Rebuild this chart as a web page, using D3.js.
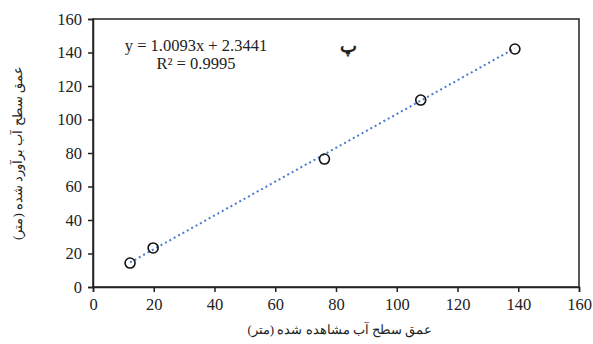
<!DOCTYPE html>
<html>
<head>
<meta charset="utf-8">
<script src="https://cdn.jsdelivr.net/npm/d3@7"></script>
<style>
  body { margin: 0; background: #fff; }
  svg text { font-family: "Liberation Serif", "Times New Roman", serif; fill: #222; }
</style>
</head>
<body>
<svg id="chart" width="593" height="344"></svg>
<script>
// observed vs estimated water table depth (m)
const observed = [12.2, 19.8, 76.2, 107.9, 138.9];
const estimated = [14.3, 23.3, 76.4, 111.6, 142.1];
const slope = 1.0093;
const intercept = 2.3441;
const xTicks = [0, 20, 40, 60, 80, 100, 120, 140, 160];
const yTicks = [0, 20, 40, 60, 80, 100, 120, 140, 160];
const eqLines = ["y = 1.0093x + 2.3441", "R² = 0.9995"];
const panelLabel = "پ";
const xTitle = "عمق سطح آب مشاهده شده (متر)";
const yTitle = "عمق سطح آب برآورد شده (متر)";

const plotL = 93, plotR = 579, plotT = 19, plotB = 287;

const svg = d3.select("#chart");

const x = d3.scaleLinear().domain([0, 160]).range([plotL, plotR]);
const y = d3.scaleLinear().domain([0, 160]).range([plotB, plotT]);

// plot frame
svg.append("rect")
    .attr("x", plotL).attr("y", plotT)
    .attr("width", plotR - plotL).attr("height", plotB - plotT)
    .attr("fill", "none").attr("stroke", "#222").attr("stroke-width", 1.5);

const xAxis = svg.append("g")
    .attr("transform", `translate(0,${plotB})`)
    .call(d3.axisBottom(x).tickValues(xTicks).tickSize(5).tickPadding(6));
const yAxis = svg.append("g")
    .attr("transform", `translate(${plotL},0)`)
    .call(d3.axisLeft(y).tickValues(yTicks).tickSize(5).tickPadding(6));

[xAxis, yAxis].forEach(g => {
    g.select(".domain").attr("stroke", "#222").attr("stroke-width", 1.5);
    g.selectAll(".tick line").attr("stroke", "#222").attr("stroke-width", 1.5);
    g.selectAll(".tick text")
        .attr("font-size", 16.5)
        .attr("font-family", "Liberation Serif, serif")
        .attr("fill", "#333");
});

// trendline from the fitted equation
const xmin = d3.min(observed), xmax = d3.max(observed);
svg.append("line")
    .attr("x1", x(xmin)).attr("y1", y(slope * xmin + intercept))
    .attr("x2", x(xmax)).attr("y2", y(slope * xmax + intercept))
    .attr("stroke", "#4a7bd0")
    .attr("stroke-width", 2)
    .attr("stroke-dasharray", "2,3");

svg.selectAll("circle.pt")
    .data(observed)
    .enter()
    .append("circle")
    .attr("class", "pt")
    .attr("cx", d => x(d))
    .attr("cy", (d, i) => y(estimated[i]))
    .attr("r", 5)
    .attr("fill", "none")
    .attr("stroke", "#111")
    .attr("stroke-width", 1.6);

svg.selectAll("text.eq")
    .data(eqLines)
    .enter()
    .append("text")
    .attr("class", "eq")
    .attr("x", 196)
    .attr("y", (d, i) => 51 + i * 18)
    .attr("text-anchor", "middle")
    .attr("font-size", 16.5)
    .text(d => d);

svg.append("text")
    .attr("x", 348).attr("y", 52)
    .attr("text-anchor", "middle")
    .attr("font-size", 18)
    .attr("font-weight", "bold")
    .attr("fill", "#000")
    .text(panelLabel);

svg.append("text")
    .attr("x", 340).attr("y", 334)
    .attr("text-anchor", "middle")
    .attr("font-size", 13)
    .attr("direction", "rtl")
    .text(xTitle);

svg.append("text")
    .attr("transform", `translate(22,${(plotT + plotB) / 2}) rotate(-90)`)
    .attr("text-anchor", "middle")
    .attr("font-size", 13)
    .attr("direction", "rtl")
    .text(yTitle);
</script>
</body>
</html>
